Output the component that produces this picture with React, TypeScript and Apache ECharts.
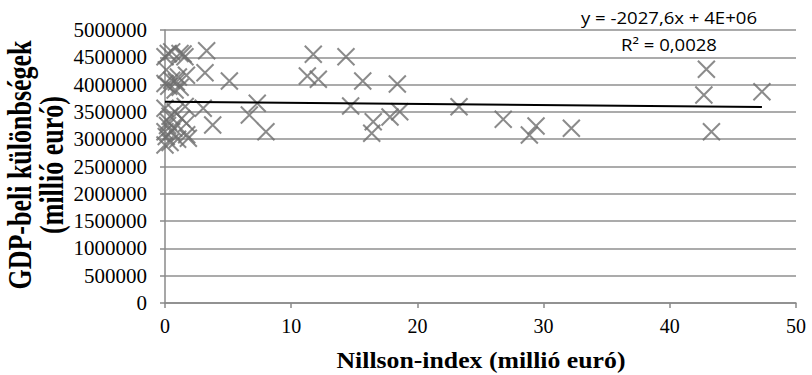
import React, { useEffect, useRef } from "react";
import * as echarts from "echarts";

const X_VALUES: number[] = [
  0.0, 0.26, 0.53, 1.19, 1.43, 1.58, 0.1, 1.06, 0.53, 0.0, 0.8, 1.7, 0.9, 0.3, 1.2,
  0.0, 0.8, 1.6, 0.26, 1.32, 0.4, 0.0, 0.53, 0.2, 1.7, 1.72, 0.0, 0.4, 0.7, 0.1, 1.0, 1.85,
  3.3, 3.17, 5.1, 3.03, 3.78, 6.68, 7.31, 8.0, 11.28, 11.75, 12.15, 14.34, 14.71, 15.67,
  16.38, 16.5, 17.83, 18.41, 18.6, 23.3, 26.8, 28.87, 29.4, 32.2, 42.7, 42.9, 43.3, 47.3,
];
const Y_VALUES: number[] = [
  4510000, 4570000, 4600000, 4570000, 4560000, 4510000, 4270000, 4140000, 4080000, 4020000,
  3900000, 4170000, 4050000, 3970000, 3950000,
  3566000, 3500000, 3600000, 3320000, 3380000, 3420000, 3137000, 3137000, 3250000, 3290000,
  3080000, 2894000, 2940000, 3200000, 3050000, 3000000, 3016000,
  4620000, 4218000, 4066000, 3566000, 3260000, 3443000, 3657000, 3137000, 4158000, 4555000,
  4097000, 4511000, 3608000, 4066000, 3108000, 3320000, 3407000, 4011000, 3504000, 3595000,
  3364000, 3077000, 3242000, 3200000, 3810000, 4280000, 3137000, 3870000,
];

const TREND_SLOPE = -2027.6;
const TREND_INTERCEPT = 3685000;
const EQUATION_LINES = ["y = -2027,6x + 4E+06", "R² = 0,0028"];

const X_MIN = 0;
const X_MAX = 50;
const X_INTERVAL = 10;
const Y_MIN = 0;
const Y_MAX = 5000000;
const Y_INTERVAL = 500000;

const X_TITLE = "Nillson-index (millió euró)";
const Y_TITLE_LINES = ["GDP-beli különbségek", "(millió euró)"];

export default function App() {
  const ref = useRef<HTMLDivElement>(null);
  useEffect(() => {
    if (!ref.current) return;
    const chart = echarts.init(ref.current, undefined, { renderer: "svg" });
    const points = X_VALUES.map((x, i) => [x, Y_VALUES[i]]);
    const xLo = Math.min(...X_VALUES);
    const xHi = Math.max(...X_VALUES);
    const trend = [
      [xLo, TREND_INTERCEPT + TREND_SLOPE * xLo],
      [xHi, TREND_INTERCEPT + TREND_SLOPE * xHi],
    ];
    const serif = "'Liberation Serif', 'Times New Roman', serif";
    const eqStyle = {
      fontFamily: "'Open Sans', sans-serif",
      fontSize: 16,
      fill: "#000",
      textAlign: "center",
      textVerticalAlign: "middle",
    };
    chart.setOption({
      animation: false,
      grid: { left: 165, right: 16, top: 30, bottom: 72 },
      xAxis: {
        type: "value",
        min: X_MIN,
        max: X_MAX,
        interval: X_INTERVAL,
        axisLine: { show: true, onZero: false, lineStyle: { color: "#8a8a8a", width: 1.5 } },
        axisTick: { show: true, length: 5, lineStyle: { color: "#8a8a8a", width: 1.5 } },
        axisLabel: { color: "#000", fontFamily: serif, fontSize: 20, margin: 13 },
        splitLine: { show: false },
      },
      yAxis: {
        type: "value",
        min: Y_MIN,
        max: Y_MAX,
        interval: Y_INTERVAL,
        axisLine: { show: true, onZero: false, lineStyle: { color: "#8a8a8a", width: 1.5 } },
        axisTick: { show: true, length: 5, lineStyle: { color: "#8a8a8a", width: 1.5 } },
        axisLabel: {
          color: "#000",
          fontFamily: serif,
          fontSize: 21,
          margin: 18,
          formatter: (v: number) => String(v),
        },
        splitLine: { show: true, lineStyle: { color: "#8f8f8f", width: 1.5 } },
      },
      series: [
        {
          type: "scatter",
          data: points,
          symbol: "path://M0,0L10,10M10,0L0,10",
          symbolSize: 17,
          itemStyle: { color: "rgba(0,0,0,0)", borderColor: "#6e6e6e", borderWidth: 2 },
          z: 3,
        },
        {
          type: "line",
          data: trend,
          symbol: "none",
          lineStyle: { color: "#000", width: 2 },
          z: 4,
        },
      ],
      graphic: [
        {
          type: "text",
          x: 669,
          y: 18,
          scaleX: 1.16,
          style: { ...eqStyle, text: EQUATION_LINES[0] },
        },
        {
          type: "text",
          x: 669,
          y: 45,
          scaleX: 1.16,
          style: { ...eqStyle, text: EQUATION_LINES[1] },
        },
        {
          type: "text",
          x: 481,
          y: 360,
          scaleX: 1.12,
          style: {
            text: X_TITLE,
            fontFamily: serif,
            fontWeight: "bold",
            fontSize: 23,
            fill: "#000",
            textAlign: "center",
            textVerticalAlign: "middle",
          },
        },
        {
          type: "text",
          x: 36,
          y: 165,
          rotation: Math.PI / 2,
          scaleY: 1.3,
          style: {
            text: Y_TITLE_LINES.join("\n"),
            fontFamily: serif,
            fontWeight: "bold",
            fontSize: 26,
            lineHeight: 25,
            fill: "#000",
            textAlign: "center",
            textVerticalAlign: "middle",
          },
        },
      ],
    });
    return () => chart.dispose();
  }, []);
  return (
    <div
      ref={ref}
      style={{ position: "fixed", left: 0, top: 0, width: 812, height: 375, background: "#fff" }}
    />
  );
}
